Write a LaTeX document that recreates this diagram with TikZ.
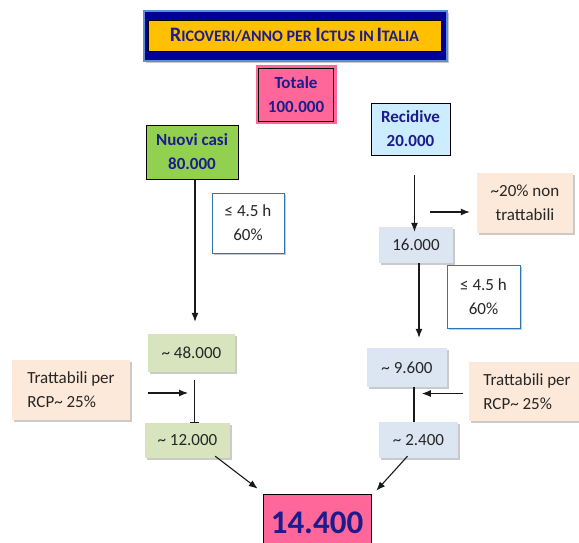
\documentclass[tikz,border=0pt]{standalone}
\usepackage{fontspec}
\setmainfont{Carlito}
\usetikzlibrary{shadows}
\usetikzlibrary{arrows}
\usetikzlibrary{arrows.meta}
\definecolor{titlenavy}{RGB}{0,0,150}
\definecolor{titleedge}{RGB}{91,143,208}
\definecolor{titleorange}{RGB}{255,192,0}
\definecolor{inknavy}{RGB}{28,28,140}
\definecolor{totpink}{RGB}{255,102,153}
\definecolor{newgreen}{RGB}{146,208,80}
\definecolor{recblue}{RGB}{204,236,255}
\definecolor{paleolive}{RGB}{215,228,189}
\definecolor{paleblue}{RGB}{220,230,242}
\definecolor{peach}{RGB}{253,233,217}
\definecolor{limitblue}{RGB}{46,117,182}
\newcommand\capL[1]{{\fontsize{20.5}{22}\selectfont #1}}

\begin{document}
\begin{tikzpicture}[x=1pt,y=-1pt,>={Latex[length=9pt,width=7pt]},
    every node/.style={font=\fontsize{17}{24}\selectfont,align=center,inner sep=0pt,text=black!85},
    conn/.style={line width=1.1pt,black!90},
    softshadow/.style={drop shadow={shadow xshift=2pt,shadow yshift=-2pt,fill=black!35,opacity=0.6}},
    headbox/.style={draw=black,semithick,font=\fontsize{17}{24}\selectfont\bfseries,text=inknavy},
    pinkbox/.style={headbox,fill=totpink},
    limitbox/.style={fill=white,draw=limitblue,thick,softshadow},
    notebox/.style={fill=peach,softshadow},
    greenbox/.style={fill=paleolive,softshadow},
    bluebox/.style={fill=paleblue,softshadow}]
      \useasboundingbox (0,0) rectangle (579,543);

      % title
      \node[fill=titlenavy,draw=titleedge,line width=2pt,minimum width=303,minimum height=50,softshadow] (titleframe) at (295,36) {};
      \node[fill=titleorange,draw=black,minimum width=293,minimum height=31,font=\fontsize{16}{20}\selectfont\bfseries,text=inknavy] (title) at (294.5,35.5)
        {\capL{R}ICOVERI/ANNO PER \capL{I}CTUS IN\,\capL{I}TALIA};

      % top boxes
      \node[pinkbox,minimum width=75,minimum height=53,softshadow,preaction={draw=totpink,line width=6pt}] (totale) at (296,95) {Totale\\100.000};
      \node[headbox,fill=newgreen,minimum width=92,minimum height=54] (nuovi) at (192,152) {Nuovi casi\\80.000};
      \node[headbox,fill=recblue,minimum width=79,minimum height=52] (recidive) at (410.5,129) {Recidive\\20.000};

      % left branch
      \node[limitbox,minimum width=72,minimum height=60] (limL) at (248,223) {≤ 4.5 h\\60\%};
      \node[greenbox,minimum width=87,minimum height=38] (n48) at (191.5,353) {\textasciitilde{} 48.000};
      \node[notebox,minimum width=118,minimum height=60,align=left] (tratL) at (71,390) {Trattabili per\\RCP\textasciitilde{} 25\%};
      \node[greenbox,minimum width=85,minimum height=35] (n12) at (187.5,440.5) {\textasciitilde{} 12.000};

      % right branch
      \node[notebox,minimum width=96,minimum height=60] (nontr) at (525,203) {\textasciitilde20\% non\\trattabili};
      \node[bluebox,minimum width=74,minimum height=36] (n16) at (416,245) {16.000};
      \node[limitbox,minimum width=73,minimum height=63] (limR) at (483.5,296.5) {≤ 4.5 h\\60\%};
      \node[bluebox,minimum width=80,minimum height=39] (n96) at (407,367.5) {\textasciitilde{} 9.600};
      \node[notebox,minimum width=116,minimum height=59,align=left] (tratR) at (527,391.5) {Trattabili per\\RCP\textasciitilde{} 25\%};
      \node[bluebox,minimum width=79,minimum height=36] (n24) at (418.5,440) {\textasciitilde{} 2.400};

      % result
      \node[pinkbox,minimum width=108,minimum height=58,font=\fontsize{33}{36}\selectfont\bfseries] (total) at (317,523) {14.400};

      % connectors
      \draw[conn,->,shorten >=12pt] ([xshift=3]nuovi.south) -- ([xshift=3]nuovi.south |- n48.north);
      \draw[conn,-{Bar[width=9pt]},shorten <=8pt] ([xshift=3]n48.south) -- ([xshift=3]n48.south |- n12.north);
      \coordinate (joinL) at (188,393);
      \draw[conn,->] ([xshift=18]tratL.east |- joinL) -- (joinL);
      \draw[conn,->] (n12.south east) ++(-15,-2) -- ([xshift=-5,yshift=5]total.north west);

      \draw[conn,->,shorten <=20pt,shorten >=-5pt] ([xshift=4]recidive.south) -- ([xshift=4]recidive.south |- n16.north);
      \draw[conn,->] ([xshift=-47,yshift=-9]nontr.west) -- ([xshift=-7,yshift=-9]nontr.west);
      \draw[conn,->,shorten >=10pt] ([xshift=3]n16.south) -- ([xshift=3]n16.south |- n96.north);
      \draw[conn] ([xshift=7]n96.south) -- ([xshift=7]n96.south |- n24.north);
      \draw[conn,->] ([xshift=-6,yshift=-2]tratR.west) -- ([xshift=-47,yshift=-2]tratR.west);
      \draw[conn,->] ([xshift=-11,yshift=2]n24.south) -- ([xshift=5,yshift=3]total.north east);

    \end{tikzpicture}
\end{document}
